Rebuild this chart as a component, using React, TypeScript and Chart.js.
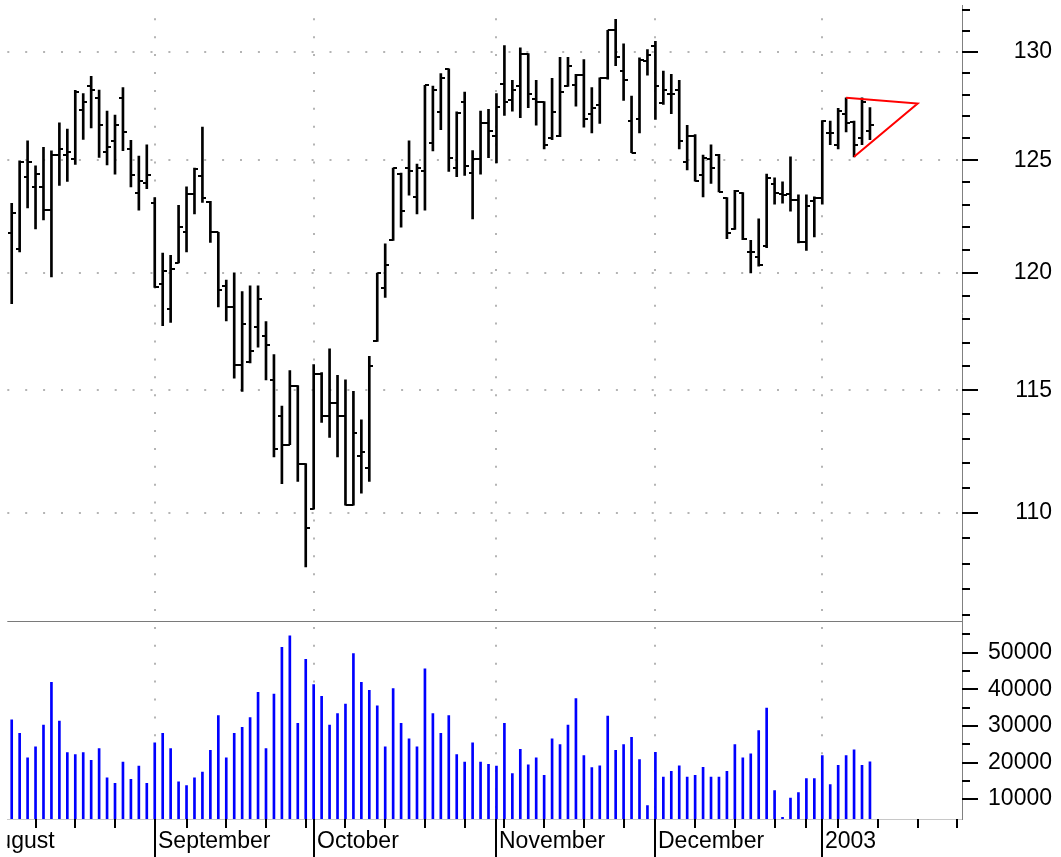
import React, { useEffect, useRef } from 'react';
import { Chart, registerables } from 'chart.js';

Chart.register(...registerables);

// ---- categories: trading days ----
const days = [
  '2002-08-07','2002-08-08','2002-08-09','2002-08-12','2002-08-13','2002-08-14','2002-08-15','2002-08-16','2002-08-19','2002-08-20',
  '2002-08-21','2002-08-22','2002-08-23','2002-08-26','2002-08-27','2002-08-28','2002-08-29','2002-08-30',
  '2002-09-03','2002-09-04','2002-09-05','2002-09-06','2002-09-09','2002-09-10','2002-09-11','2002-09-12','2002-09-13','2002-09-16',
  '2002-09-17','2002-09-18','2002-09-19','2002-09-20','2002-09-23','2002-09-24','2002-09-25','2002-09-26','2002-09-27','2002-09-30',
  '2002-10-01','2002-10-02','2002-10-03','2002-10-04','2002-10-07','2002-10-08','2002-10-09','2002-10-10','2002-10-11','2002-10-14',
  '2002-10-15','2002-10-16','2002-10-17','2002-10-18','2002-10-21','2002-10-22','2002-10-23','2002-10-24','2002-10-25','2002-10-28',
  '2002-10-29','2002-10-30','2002-10-31',
  '2002-11-01','2002-11-04','2002-11-05','2002-11-06','2002-11-07','2002-11-08','2002-11-11','2002-11-12','2002-11-13','2002-11-14',
  '2002-11-15','2002-11-18','2002-11-19','2002-11-20','2002-11-21','2002-11-22','2002-11-25','2002-11-26','2002-11-27','2002-11-29',
  '2002-12-02','2002-12-03','2002-12-04','2002-12-05','2002-12-06','2002-12-09','2002-12-10','2002-12-11','2002-12-12','2002-12-13',
  '2002-12-16','2002-12-17','2002-12-18','2002-12-19','2002-12-20','2002-12-23','2002-12-24','2002-12-26','2002-12-27','2002-12-30',
  '2002-12-31',
  '2003-01-02','2003-01-03','2003-01-06','2003-01-07','2003-01-08','2003-01-09','2003-01-10',
];

// ---- OHLC series ----
const opens = [
  121.75, 121.05, 124.22, 123.79, 123.79, 122.76, 125.23, 125.23, 125.05, 127.31,
  128.40, 127.86, 125.35, 125.88, 127.83, 125.51, 123.54, 123.98, 123.06, 119.50,
  118.45, 120.43, 121.77, 123.46, 124.30, 123.10, 121.77, 119.43, 118.53, 116.07,
  116.18, 117.65, 117.30, 115.43, 113.93, 112.75, 115.19, 111.98, 110.15, 115.70,
  113.93, 114.48, 113.93, 110.31, 112.28, 111.80, 117.05, 119.33, 121.42, 124.37,
  124.64, 123.35, 124.49, 125.80, 127.21, 129.18, 124.64, 127.66, 124.42, 125.06,
  126.70, 126.08, 128.48, 127.74, 128.40, 129.92, 127.79, 127.68, 126.01, 126.11,
  128.39, 128.44, 128.91, 127.12, 127.51, 128.76, 131.02, 129.10, 126.78, 126.86,
  129.56, 130.26, 127.60, 128.05, 128.20, 124.93, 126.12, 124.31, 125.05, 125.23,
  123.28, 121.90, 123.54, 120.91, 120.69, 121.15, 123.93, 123.46, 123.46, 123.20,
  121.35, 123.17, 123.28, 126.24, 125.70, 127.09, 126.75, 126.01, 126.32,
];
const highs = [
  123.06, 124.97, 125.88, 124.74, 125.58, 125.42, 126.70, 126.42, 128.20, 128.05,
  128.85, 128.22, 127.24, 127.06, 128.33, 125.90, 125.19, 125.70, 123.32, 120.86,
  120.76, 122.97, 123.80, 124.64, 126.51, 123.15, 121.77, 119.68, 120.00, 119.19,
  119.44, 119.44, 117.90, 116.50, 114.34, 115.82, 115.19, 111.98, 116.07, 115.74,
  116.74, 115.62, 115.44, 114.95, 113.77, 116.42, 119.99, 121.27, 124.64, 124.42,
  125.88, 124.82, 128.44, 128.40, 128.98, 129.21, 127.21, 128.12, 125.43, 127.24,
  127.32, 128.05, 130.30, 128.67, 130.19, 129.92, 128.67, 127.68, 128.76, 129.75,
  129.75, 128.95, 129.64, 128.33, 128.79, 131.02, 131.55, 130.38, 127.94, 129.72,
  130.11, 130.50, 129.10, 128.95, 128.67, 126.59, 126.16, 125.23, 125.70, 125.26,
  123.32, 123.64, 123.54, 121.42, 122.37, 124.37, 124.20, 124.02, 125.15, 123.44,
  123.44, 123.35, 126.81, 126.78, 127.37, 127.86, 126.78, 127.86, 127.40,
];
const lows = [
  118.67, 120.91, 122.85, 121.92, 122.32, 119.82, 123.86, 124.04, 124.81, 125.94,
  126.47, 125.12, 124.78, 124.37, 125.43, 123.79, 122.76, 123.71, 119.37, 117.72,
  117.86, 120.43, 120.91, 122.59, 123.10, 121.33, 118.53, 117.93, 115.50, 114.95,
  116.15, 116.81, 115.43, 112.25, 111.17, 112.75, 111.26, 107.87, 110.15, 113.67,
  113.05, 112.25, 110.31, 110.31, 110.79, 111.26, 117.05, 118.94, 121.42, 122.00,
  123.42, 122.59, 122.76, 125.42, 126.39, 124.49, 124.26, 124.31, 122.37, 124.37,
  125.11, 124.88, 127.04, 127.24, 126.94, 127.40, 126.59, 125.51, 125.93, 126.07,
  128.39, 127.47, 126.50, 126.24, 126.67, 128.72, 129.36, 127.74, 125.34, 126.24,
  128.91, 126.86, 127.55, 127.12, 125.51, 124.56, 124.05, 123.35, 123.95, 123.57,
  121.49, 121.90, 121.45, 119.99, 120.29, 121.10, 123.02, 123.07, 122.71, 121.31,
  120.98, 121.57, 123.02, 125.70, 125.51, 126.29, 125.15, 125.70, 125.93,
];
const closes = [
  122.62, 124.93, 124.93, 124.39, 122.76, 125.23, 125.51, 125.36, 128.14, 127.68,
  128.22, 126.59, 125.62, 126.62, 126.27, 124.31, 124.08, 124.31, 119.40, 120.07,
  120.16, 122.03, 123.46, 124.61, 123.29, 121.77, 119.26, 118.53, 116.07, 117.79,
  116.64, 118.87, 116.91, 112.59, 112.75, 115.19, 111.98, 109.41, 115.68, 113.93,
  114.48, 113.93, 110.31, 113.22, 112.44, 116.01, 119.99, 120.32, 124.64, 122.71,
  124.49, 124.64, 128.44, 128.20, 128.76, 125.08, 127.14, 124.74, 125.06, 126.70,
  126.35, 127.43, 127.66, 128.20, 129.92, 128.02, 127.68, 125.70, 127.21, 128.12,
  129.36, 128.91, 126.86, 127.40, 128.76, 131.02, 129.75, 128.67, 125.34, 129.64,
  129.84, 128.40, 128.22, 128.02, 125.88, 126.08, 124.08, 125.11, 124.64, 123.57,
  121.74, 123.61, 121.49, 120.91, 120.32, 124.20, 123.54, 123.43, 123.20, 121.35,
  122.94, 123.29, 126.78, 126.24, 127.27, 126.70, 125.70, 127.68, 126.59,
];
const volumes = [
  31700, 28000, 21300, 24300, 30200, 41900, 31300, 22700, 22200, 22700,
  20600, 23800, 15800, 14300, 20100, 15400, 19000, 14300, 25400, 28000,
  23800, 14700, 13700, 15800, 17400, 23300, 32800, 21300, 28000, 29600,
  32300, 39200, 23800, 38700, 51500, 54600, 30700, 48200, 41300, 38100,
  30200, 33400, 36000, 49800, 41900, 39700, 35500, 24300, 40200, 30700,
  26500, 24300, 45600, 33400, 28000, 32800, 22200, 20100, 25400, 20100,
  19500, 19000, 30700, 17000, 23600, 19400, 21300, 16500, 26500, 24900,
  30200, 37500, 21900, 18600, 19100, 32700, 23300, 24900, 26900, 20800,
  8200, 22800, 16000, 17600, 19100, 16000, 16500, 18700, 16000, 16000,
  17600, 24900, 21300, 22400, 28700, 34900, 12300, 5000, 10300, 11800,
  15600, 15600, 21900, 14000, 19200, 21900, 23500, 19200, 20200,
];

// ---- axis ticks / labels (trading-day index positions) ----
const monthStartIdx = [-4, 18, 38, 61, 81, 102];
const monthLabels = ['August', 'September', 'October', 'November', 'December', '2003'];
const weekStartIdx = [3, 8, 13, 18, 22, 27, 32, 37, 42, 47, 52, 57, 62, 67, 72, 77, 81, 86, 91, 96, 100, 104, 109, 114, 119];
const priceTickValues = [106, 107, 108, 109, 110, 111, 112, 113, 114, 115, 116, 117, 118, 119, 120, 121, 122, 123, 124, 125, 126, 127, 128, 129, 130, 131, 132];
const priceLabelValues = [110, 115, 120, 125, 130];
const volumeTickValues = [10000, 15000, 20000, 25000, 30000, 35000, 40000, 45000, 50000, 55000];
const volumeLabelValues = [10000, 20000, 30000, 40000, 50000];

// ---- red converging trend lines ----
const trendX = [105, 114, 106];
const trendY = [127.86, 127.59, 125.15];

const X_MIN = -0.554;
const X_MAX = 119.62;
const P_MIN = 105.74;
const P_MAX = 132.23;
const V_MIN = 4560;
const V_MAX = 58430;

const FONT = '"Liberation Sans", Arial, Helvetica, sans-serif';

function makeTick(side: 'left' | 'right') {
  const c = document.createElement('canvas');
  c.width = 8;
  c.height = 2;
  const g = c.getContext('2d')!;
  g.fillStyle = '#000';
  g.fillRect(side === 'left' ? 0 : 4, 0, 4, 2);
  return c;
}

const decorPlugin = {
  id: 'decor',
  afterDraw(chart: any) {
    const { ctx, chartArea } = chart;
    const xs = chart.scales.x;
    const yp = chart.scales.y;
    const yv = chart.scales.yv;
    const left = chartArea.left;
    const right = chartArea.right;
    const bottom = chartArea.bottom;
    const H = chart.height;
    ctx.save();
    // divider between panels
    ctx.fillStyle = '#7a7a7a';
    ctx.fillRect(left, Math.floor(yp.bottom), right - left, 1);
    // right axis tick marks
    ctx.fillStyle = '#000';
    const ax = Math.round(right);
    priceTickValues.forEach((v) => {
      const y = yp.getPixelForValue(v);
      const len = priceLabelValues.includes(v) ? 16 : 8;
      ctx.fillRect(ax, Math.round(y) - 1, len, 2);
    });
    volumeTickValues.forEach((v) => {
      const y = yv.getPixelForValue(v);
      const len = volumeLabelValues.includes(v) ? 16 : 8;
      ctx.fillRect(ax, Math.round(y) - 1, len, 2);
    });
    // bottom axis: weekly ticks
    weekStartIdx.forEach((i) => {
      const x = xs.getPixelForValue(i);
      if (x < left - 1 || x > right + 1) return;
      ctx.fillRect(Math.round(x) - 1, bottom, 2, 9);
    });
    // month separators
    monthStartIdx.forEach((i) => {
      const x = xs.getPixelForValue(i);
      if (x < left - 1 || x > right + 1) return;
      ctx.fillRect(Math.round(x) - 1, bottom, 2, H - bottom);
    });
    // month labels, clipped to the plot width
    ctx.save();
    ctx.beginPath();
    ctx.rect(left, bottom, right - left, H - bottom);
    ctx.clip();
    ctx.font = '23px ' + FONT;
    ctx.textAlign = 'left';
    ctx.textBaseline = 'alphabetic';
    ctx.fillStyle = '#000';
    monthStartIdx.forEach((i, k) => {
      const x = xs.getPixelForValue(i);
      ctx.fillText(monthLabels[k], Math.round(x) + 3, bottom + 29);
    });
    ctx.restore();
    ctx.restore();
  },
};

export default function App() {
  const ref = useRef<HTMLCanvasElement>(null);

  useEffect(() => {
    const canvas = ref.current;
    if (!canvas) return;
    const openImg = makeTick('left');
    const closeImg = makeTick('right');

    const chart = new Chart(canvas, {
      type: 'bar',
      data: {
        labels: days,
        datasets: [
          {
            type: 'line',
            label: 'trend',
            data: trendX.map((x, k) => ({ x, y: trendY[k] })),
            yAxisID: 'y',
            xAxisID: 'x',
            borderColor: '#ff0000',
            borderWidth: 2,
            pointRadius: 0,
            fill: false,
            tension: 0,
          } as any,
          {
            type: 'scatter',
            label: 'open',
            data: opens.map((v, i) => ({ x: i, y: v })),
            yAxisID: 'y',
            xAxisID: 'x',
            pointStyle: openImg as any,
            pointRadius: 3,
          } as any,
          {
            type: 'scatter',
            label: 'close',
            data: closes.map((v, i) => ({ x: i, y: v })),
            yAxisID: 'y',
            xAxisID: 'x',
            pointStyle: closeImg as any,
            pointRadius: 3,
          } as any,
          {
            type: 'bar',
            label: 'range',
            data: days.map((_, i) => ({ x: i, y: [lows[i], highs[i]] })),
            yAxisID: 'y',
            xAxisID: 'x',
            backgroundColor: '#000000',
            borderWidth: 0,
            barThickness: 2,
            grouped: false,
          } as any,
          {
            type: 'bar',
            label: 'volume',
            data: volumes.map((v, i) => ({ x: i, y: v })),
            yAxisID: 'yv',
            xAxisID: 'x',
            backgroundColor: '#0000ff',
            borderWidth: 0,
            barThickness: 2,
            grouped: false,
          } as any,
        ],
      },
      options: {
        responsive: false,
        animation: false,
        devicePixelRatio: 1,
        events: [],
        layout: { padding: { left: 7.3, right: 9, top: 0, bottom: 0 } },
        plugins: { legend: { display: false }, tooltip: { enabled: false } },
        scales: {
          x: {
            type: 'linear',
            position: 'bottom',
            min: X_MIN,
            max: X_MAX,
            offset: false,
            afterBuildTicks: (s: any) => {
              s.ticks = monthStartIdx.filter((v) => v >= X_MIN && v <= X_MAX).map((v) => ({ value: v }));
            },
            afterFit: (s: any) => {
              s.height = 38;
              s.paddingLeft = 0;
              s.paddingRight = 0;
            },
            ticks: { display: false },
            grid: { offset: false, color: '#b4b4b4', lineWidth: 2, drawTicks: false },
            border: { display: true, color: '#c8c8c8', width: 1, dash: [2, 15.9], dashOffset: 4.6 },
          },
          y: {
            type: 'logarithmic',
            position: 'right',
            stack: 'panels',
            stackWeight: 620.7,
            min: P_MIN,
            max: P_MAX,
            afterBuildTicks: (s: any) => {
              s.ticks = priceTickValues.map((v) => ({ value: v }));
            },
            afterFit: (s: any) => {
              s.width = 89.7;
              s.paddingTop = 0;
              s.paddingBottom = 0;
            },
            ticks: {
              autoSkip: false,
              crossAlign: 'far',
              padding: 10,
              color: '#000',
              font: { family: FONT, size: 23 },
              callback: (v: any) => (priceLabelValues.includes(Number(v)) ? String(v) : ''),
            },
            grid: {
              drawTicks: false,
              color: '#b4b4b4',
              lineWidth: (c: any) => (c.tick && priceLabelValues.includes(c.tick.value) ? 2 : 0),
            },
            border: { display: true, color: '#808080', width: 1, dash: [2, 15.9] },
          },
          yv: {
            type: 'linear',
            position: 'right',
            stack: 'panels',
            stackWeight: 198.3,
            min: V_MIN,
            max: V_MAX,
            afterBuildTicks: (s: any) => {
              s.ticks = volumeTickValues.map((v) => ({ value: v }));
            },
            afterFit: (s: any) => {
              s.width = 89.7;
              s.paddingTop = 0;
              s.paddingBottom = 0;
            },
            ticks: {
              autoSkip: false,
              crossAlign: 'far',
              padding: 10,
              color: '#000',
              font: { family: FONT, size: 23 },
              callback: (v: any) => (volumeLabelValues.includes(Number(v)) ? String(v) : ''),
            },
            grid: { display: false, drawTicks: false },
            border: { display: true, color: '#808080', width: 1 },
          },
        },
      } as any,
      plugins: [decorPlugin as any],
    });

    return () => chart.destroy();
  }, []);

  return (
    <div style={{ position: 'fixed', left: 0, top: 0, width: 1061, height: 857, background: '#ffffff' }}>
      <canvas ref={ref} width={1061} height={857} style={{ display: 'block', width: 1061, height: 857 }} />
    </div>
  );
}
